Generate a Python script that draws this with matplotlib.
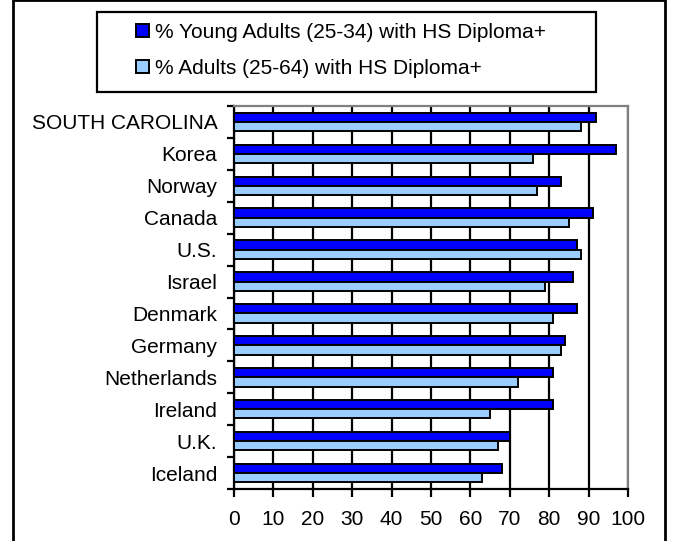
import matplotlib.pyplot as plt
import numpy as np
from matplotlib.patches import Rectangle

plt.rcParams['font.family'] = ['Liberation Sans', 'DejaVu Sans']

countries = ['SOUTH CAROLINA', 'Korea', 'Norway', 'Canada', 'U.S.', 'Israel',
             'Denmark', 'Germany', 'Netherlands', 'Ireland', 'U.K.', 'Iceland']
young = [92, 97, 83, 91, 87, 86, 87, 84, 81, 81, 70, 68]
adults = [88, 76, 77, 85, 88, 79, 81, 83, 72, 65, 67, 63]
xticks = [0, 10, 20, 30, 40, 50, 60, 70, 80, 90, 100]

W, H = 673, 541
fs = 15
fig = plt.figure(figsize=(W/100, H/100), dpi=100)
ax = fig.add_axes([234/W, 1 - 489/H, (628-234)/W, (489-106)/H])

n = len(countries)
pos = n - 1 - np.arange(n) + 0.5
h = 0.29
ax.barh(pos + h/2, young, height=h, color='#0000FF', edgecolor='black', linewidth=1.4,
        label='% Young Adults (25-34) with HS Diploma+', zorder=3)
ax.barh(pos - h/2, adults, height=h, color='#99CCFF', edgecolor='black', linewidth=1.4,
        label='% Adults (25-64) with HS Diploma+', zorder=3)

ax.set_xlim(0, 100)
ax.set_ylim(0, n)
ax.set_xticks(xticks)
ax.set_xticklabels([str(v) for v in xticks], fontsize=fs)
ax.set_yticks(np.arange(n + 1))
ax.set_yticklabels([])
ax.set_yticks(pos, minor=True)
ax.set_yticklabels(countries, minor=True, fontsize=fs)
ax.tick_params(axis='y', which='minor', length=0, pad=12)
ax.tick_params(axis='y', which='major', length=5, width=1.6, direction='out')
ax.tick_params(axis='x', length=6, width=1.6, direction='out', pad=9)
ax.grid(axis='x', color='black', linewidth=1.6, zorder=0)
ax.set_axisbelow(True)
for s in ['left', 'bottom']:
    ax.spines[s].set_linewidth(1.6)
for s in ['top', 'right']:
    ax.spines[s].set_color('#808080')
    ax.spines[s].set_linewidth(1.6)

# legend box drawn separately, entries placed inside
fig.patches.append(Rectangle((97/W, 1 - 92/H), (596-97)/W, 80/H, transform=fig.transFigure,
                             fill=False, edgecolor='black', linewidth=1.6))
fig.legend(loc='upper left', bbox_to_anchor=(136/W, 1 - 23/H), fontsize=fs, frameon=False,
           borderpad=0, borderaxespad=0, labelspacing=0.8, handlelength=0.63,
           handleheight=0.63, handletextpad=0.3)

fig.patches.append(Rectangle((13/W, -0.05), (665-13)/W, 1.05 - 0.5/H, transform=fig.transFigure,
                             fill=False, edgecolor='black', linewidth=2))

fig.savefig('out.png', dpi=100)
